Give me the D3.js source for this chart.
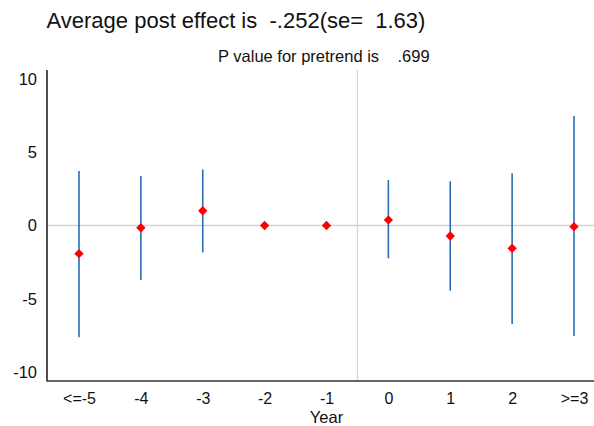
<!DOCTYPE html>
<html lang="en">
<head>
<meta charset="utf-8">
<script src="https://d3js.org/d3.v7.min.js"></script>
<style>
  body { margin: 0; background: #fff; }
  text { font-family: "Liberation Sans", Arial, sans-serif; fill: #111; }
</style>
</head>
<body>
<script>
// event-study estimates
const years = ["<=-5", "-4", "-3", "-2", "-1", "0", "1", "2", ">=3"];
const coef  = [-1.92, -0.15, 1.01, 0, 0, 0.38, -0.72, -1.56, -0.08];
const ciLow = [-7.63, -3.72, -1.83, null, null, -2.24, -4.45, -6.72, -7.54];
const ciHigh = [3.72, 3.38, 3.83, null, null, 3.10, 3.02, 3.56, 7.47];
const yTicks = [-10, -5, 0, 5, 10];

const titleText = "Average post effect is  -.252(se=  1.63)";
const subText = "P value for pretrend is    .699";

const W = 594, H = 426;
const mLeft = 47, mRight = 594, mTop = 70, mBottom = 381;

const rows = years.map((yr, i) => ({ yr: yr, b: coef[i], lo: ciLow[i], hi: ciHigh[i] }));

const svg = d3.select("body").append("svg")
    .attr("width", W).attr("height", H);

const x = d3.scalePoint().domain(years).range([79, 574]);
const y = d3.scaleLinear().domain([-10, 10]).range([372, 79]);

// zero line and the treatment-start line
svg.append("line")
    .attr("x1", mLeft).attr("x2", mRight)
    .attr("y1", y(0)).attr("y2", y(0))
    .attr("stroke", "#d4d4d4").attr("stroke-width", 1.3);

const xCut = (x("-1") + x("0")) / 2;
svg.append("line")
    .attr("x1", xCut).attr("x2", xCut)
    .attr("y1", mTop).attr("y2", mBottom)
    .attr("stroke", "#d4d4d4").attr("stroke-width", 1.3);

// axes (plain hyphen for negatives, like the original)
const yAxis = d3.axisLeft(y).tickValues(yTicks).tickFormat(d => String(d))
    .tickSize(0).tickPadding(10);
const gy = svg.append("g").attr("transform", `translate(${mLeft},0)`).call(yAxis);
gy.select(".domain").remove();
gy.selectAll("text").style("font-size", "16.5px");

const xAxis = d3.axisBottom(x).tickSize(0).tickPadding(12);
const gx = svg.append("g").attr("transform", `translate(0,${mBottom})`).call(xAxis);
gx.select(".domain").remove();
gx.selectAll("text").style("font-size", "16px");

svg.append("line")
    .attr("x1", mLeft).attr("x2", mLeft).attr("y1", mTop).attr("y2", mBottom + 0.5)
    .attr("stroke", "#222").attr("stroke-width", 1.6);
svg.append("line")
    .attr("x1", mLeft).attr("x2", mRight).attr("y1", mBottom).attr("y2", mBottom)
    .attr("stroke", "#333").attr("stroke-width", 1.6);

// confidence intervals
svg.selectAll(".ci")
    .data(rows.filter(d => d.lo !== null))
    .join("line")
    .attr("class", "ci")
    .attr("x1", d => x(d.yr)).attr("x2", d => x(d.yr))
    .attr("y1", d => y(d.lo)).attr("y2", d => y(d.hi))
    .attr("stroke", "#2a6db5").attr("stroke-width", 1.6);

// point estimates
svg.selectAll(".pt")
    .data(rows)
    .join("path")
    .attr("class", "pt")
    .attr("transform", d => `translate(${x(d.yr)},${y(d.b)})`)
    .attr("d", d3.symbol(d3.symbolDiamond2, 56))
    .attr("fill", "#ff0000");

// titles
svg.append("text")
    .attr("x", 46.5).attr("y", 27.5)
    .style("font-size", "22px")
    .style("white-space", "pre")
    .text(titleText);

svg.append("text")
    .attr("x", 218).attr("y", 61.5)
    .style("font-size", "16.5px")
    .style("white-space", "pre")
    .text(subText);

svg.append("text")
    .attr("x", x("-1")).attr("y", 423)
    .attr("text-anchor", "middle")
    .style("font-size", "16.5px")
    .text("Year");
</script>
</body>
</html>
